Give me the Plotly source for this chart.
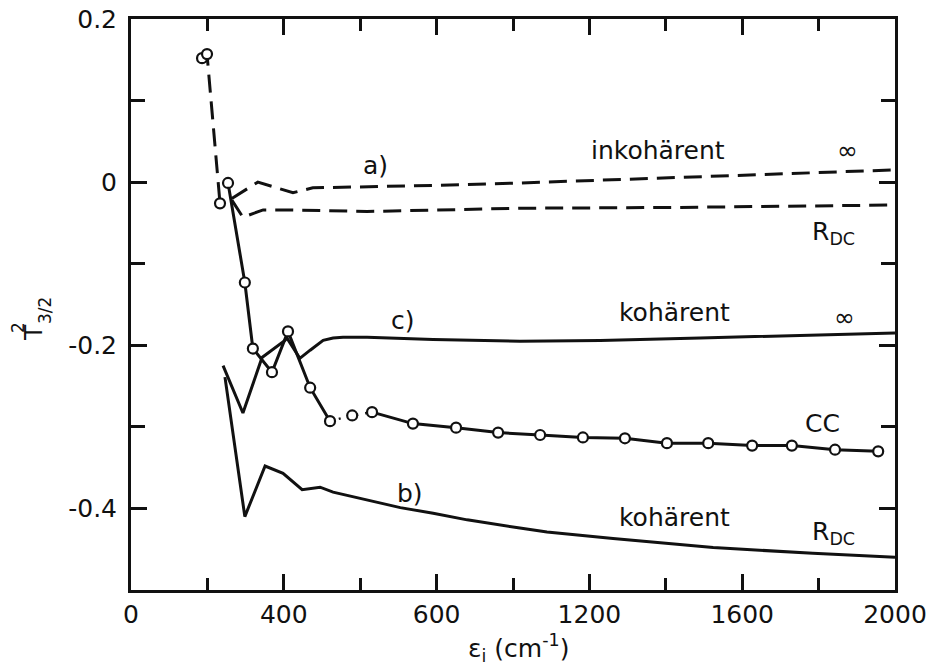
import plotly.graph_objects as go

# ---- data ----
cc_dash_x = [186, 199, 233]
cc_dash_y = [0.152, 0.157, -0.026]

cc_x = [254, 298, 319, 369, 411, 469, 521, 579, 631, 738, 851, 961, 1071, 1183,
        1293, 1403, 1511, 1626, 1730, 1843, 1956]
cc_y = [-0.001, -0.123, -0.204, -0.233, -0.183, -0.252, -0.293, -0.286, -0.282,
        -0.296, -0.301, -0.307, -0.310, -0.313, -0.314, -0.320, -0.320, -0.323,
        -0.323, -0.328, -0.330]

coh_inf_x = [241, 293, 343, 403, 408, 442, 469, 503, 529, 555, 618, 791, 1018,
             1228, 1490, 1751, 2000]
coh_inf_y = [-0.225, -0.283, -0.215, -0.194, -0.191, -0.216, -0.206, -0.194,
             -0.191, -0.190, -0.190, -0.193, -0.195, -0.194, -0.191, -0.188, -0.185]

coh_rdc_x = [246, 298, 351, 398, 448, 495, 529, 618, 705, 791, 880, 1018, 1089,
             1262, 1524, 1785, 2000]
coh_rdc_y = [-0.239, -0.410, -0.348, -0.357, -0.377, -0.374, -0.380, -0.390,
             -0.399, -0.406, -0.414, -0.424, -0.429, -0.437, -0.448, -0.455, -0.460]

inc_inf_x = [264, 332, 382, 424, 476, 618, 791, 1018, 1437, 2000]
inc_inf_y = [-0.020, 0.000, -0.007, -0.013, -0.007, -0.006, -0.004, -0.001, 0.006, 0.015]

inc_rdc_x = [264, 293, 346, 416, 618, 1018, 1437, 2000]
inc_rdc_y = [-0.022, -0.043, -0.034, -0.034, -0.036, -0.032, -0.031, -0.028]

x_tickvals = [0, 400, 800, 1200, 1600, 2000]
x_ticktext = ["0", "400", "600", "1200", "1600", "2000"]
y_tickvals = [0.2, 0, -0.2, -0.4]
y_ticktext = ["0.2", "0", "-0.2", "-0.4"]

INK = "#111111"
FONT = "DejaVu Sans"
LW = 3
DASH = "18px,9px"

# page has an 8px body margin: figure origin sits at (8, 8) in the screenshot
OFF = 8
W, H = 936 - OFF, 670 - OFF
L, R, T, B = 131 - OFF, 41, 19 - OFF, 80
pw, ph = W - L - R, H - T - B


def px(xp, yp):
    """screenshot pixel -> paper coordinates"""
    return (xp - OFF - L) / pw, (H - B - (yp - OFF)) / ph


fig = go.Figure()

# dashed curves a)
fig.add_trace(go.Scatter(x=inc_inf_x, y=inc_inf_y, mode="lines",
                         line=dict(color=INK, width=LW, dash=DASH)))
fig.add_trace(go.Scatter(x=inc_rdc_x, y=inc_rdc_y, mode="lines",
                         line=dict(color=INK, width=LW, dash=DASH)))
# solid curves c), b)
fig.add_trace(go.Scatter(x=coh_inf_x, y=coh_inf_y, mode="lines",
                         line=dict(color=INK, width=LW)))
fig.add_trace(go.Scatter(x=coh_rdc_x, y=coh_rdc_y, mode="lines",
                         line=dict(color=INK, width=LW)))
# CC curve
fig.add_trace(go.Scatter(x=cc_dash_x, y=cc_dash_y, mode="lines",
                         line=dict(color=INK, width=LW, dash=DASH)))
fig.add_trace(go.Scatter(x=cc_x[:7], y=cc_y[:7], mode="lines",
                         line=dict(color=INK, width=LW)))
fig.add_trace(go.Scatter(x=cc_x[6:9], y=cc_y[6:9], mode="lines",
                         line=dict(color=INK, width=2.5, dash="2px,7px")))
fig.add_trace(go.Scatter(x=cc_x[8:], y=cc_y[8:], mode="lines",
                         line=dict(color=INK, width=LW)))
fig.add_trace(go.Scatter(x=cc_dash_x + cc_x, y=cc_dash_y + cc_y, mode="markers",
                         marker=dict(symbol="circle", size=10, color="white",
                                     line=dict(color=INK, width=2.2))))

tf = dict(family=FONT, size=25, color=INK)
labels = [
    ("a)", 639, 0.020), ("inkohärent", 1380, 0.039), ("∞", 1875, 0.039),
    ("R<sub>DC</sub>", 1838, -0.062), ("c)", 712, -0.169),
    ("kohärent", 1424, -0.160), ("∞", 1869, -0.166), ("CC", 1809, -0.296),
    ("b)", 730, -0.382), ("kohärent", 1424, -0.411), ("R<sub>DC</sub>", 1838, -0.430),
]
for t, x, y in labels:
    fig.add_annotation(x=x, y=y, xref="x", yref="y", text=t, showarrow=False,
                       font=tf, xanchor="center", yanchor="middle")

# axis titles (placed in screenshot pixels, converted to paper coordinates)
titles = [
    ("ε<sub>i</sub> (cm<sup>-1</sup>)", 518, 648, 0, 25),
    ("T", 33, 333, -90, 25),
    ("2", 18, 328, -90, 17),
    ("3/2", 45, 311, -90, 17),
]
for t, xp, yp, ang, fs in titles:
    xx, yy = px(xp, yp)
    fig.add_annotation(x=xx, y=yy, xref="paper", yref="paper", text=t,
                       showarrow=False, textangle=ang, xanchor="center",
                       yanchor="middle",
                       font=dict(family=FONT, size=fs, color=INK))

fig.update_layout(
    width=W, height=H, showlegend=False,
    paper_bgcolor="white", plot_bgcolor="white",
    margin=dict(l=L, r=R, t=T, b=B, autoexpand=False),
    font=dict(family=FONT, size=25, color=INK),
)
fig.update_xaxes(range=[0, 2000], tickvals=x_tickvals, ticktext=x_ticktext,
                 ticks="inside", ticklen=16, tickwidth=2.5, tickcolor=INK,
                 showline=True, linewidth=3, linecolor=INK, mirror="ticks",
                 showgrid=False, zeroline=False, ticklabelstandoff=0, automargin=False,
                 ticklabeloverflow="allow",
                 minor=dict(dtick=200, ticks="inside", ticklen=12, tickwidth=2.5,
                            tickcolor=INK, showgrid=False))
fig.update_yaxes(range=[-0.5, 0.2], tickvals=y_tickvals, ticktext=y_ticktext,
                 ticks="inside", ticklen=16, tickwidth=2.5, tickcolor=INK,
                 showline=True, linewidth=3, linecolor=INK, mirror="ticks",
                 showgrid=False, zeroline=False, ticklabelstandoff=6, automargin=False,
                 ticklabeloverflow="allow",
                 minor=dict(dtick=0.1, ticks="inside", ticklen=14, tickwidth=2.5,
                            tickcolor=INK, showgrid=False))

fig.write_html("out.html")
